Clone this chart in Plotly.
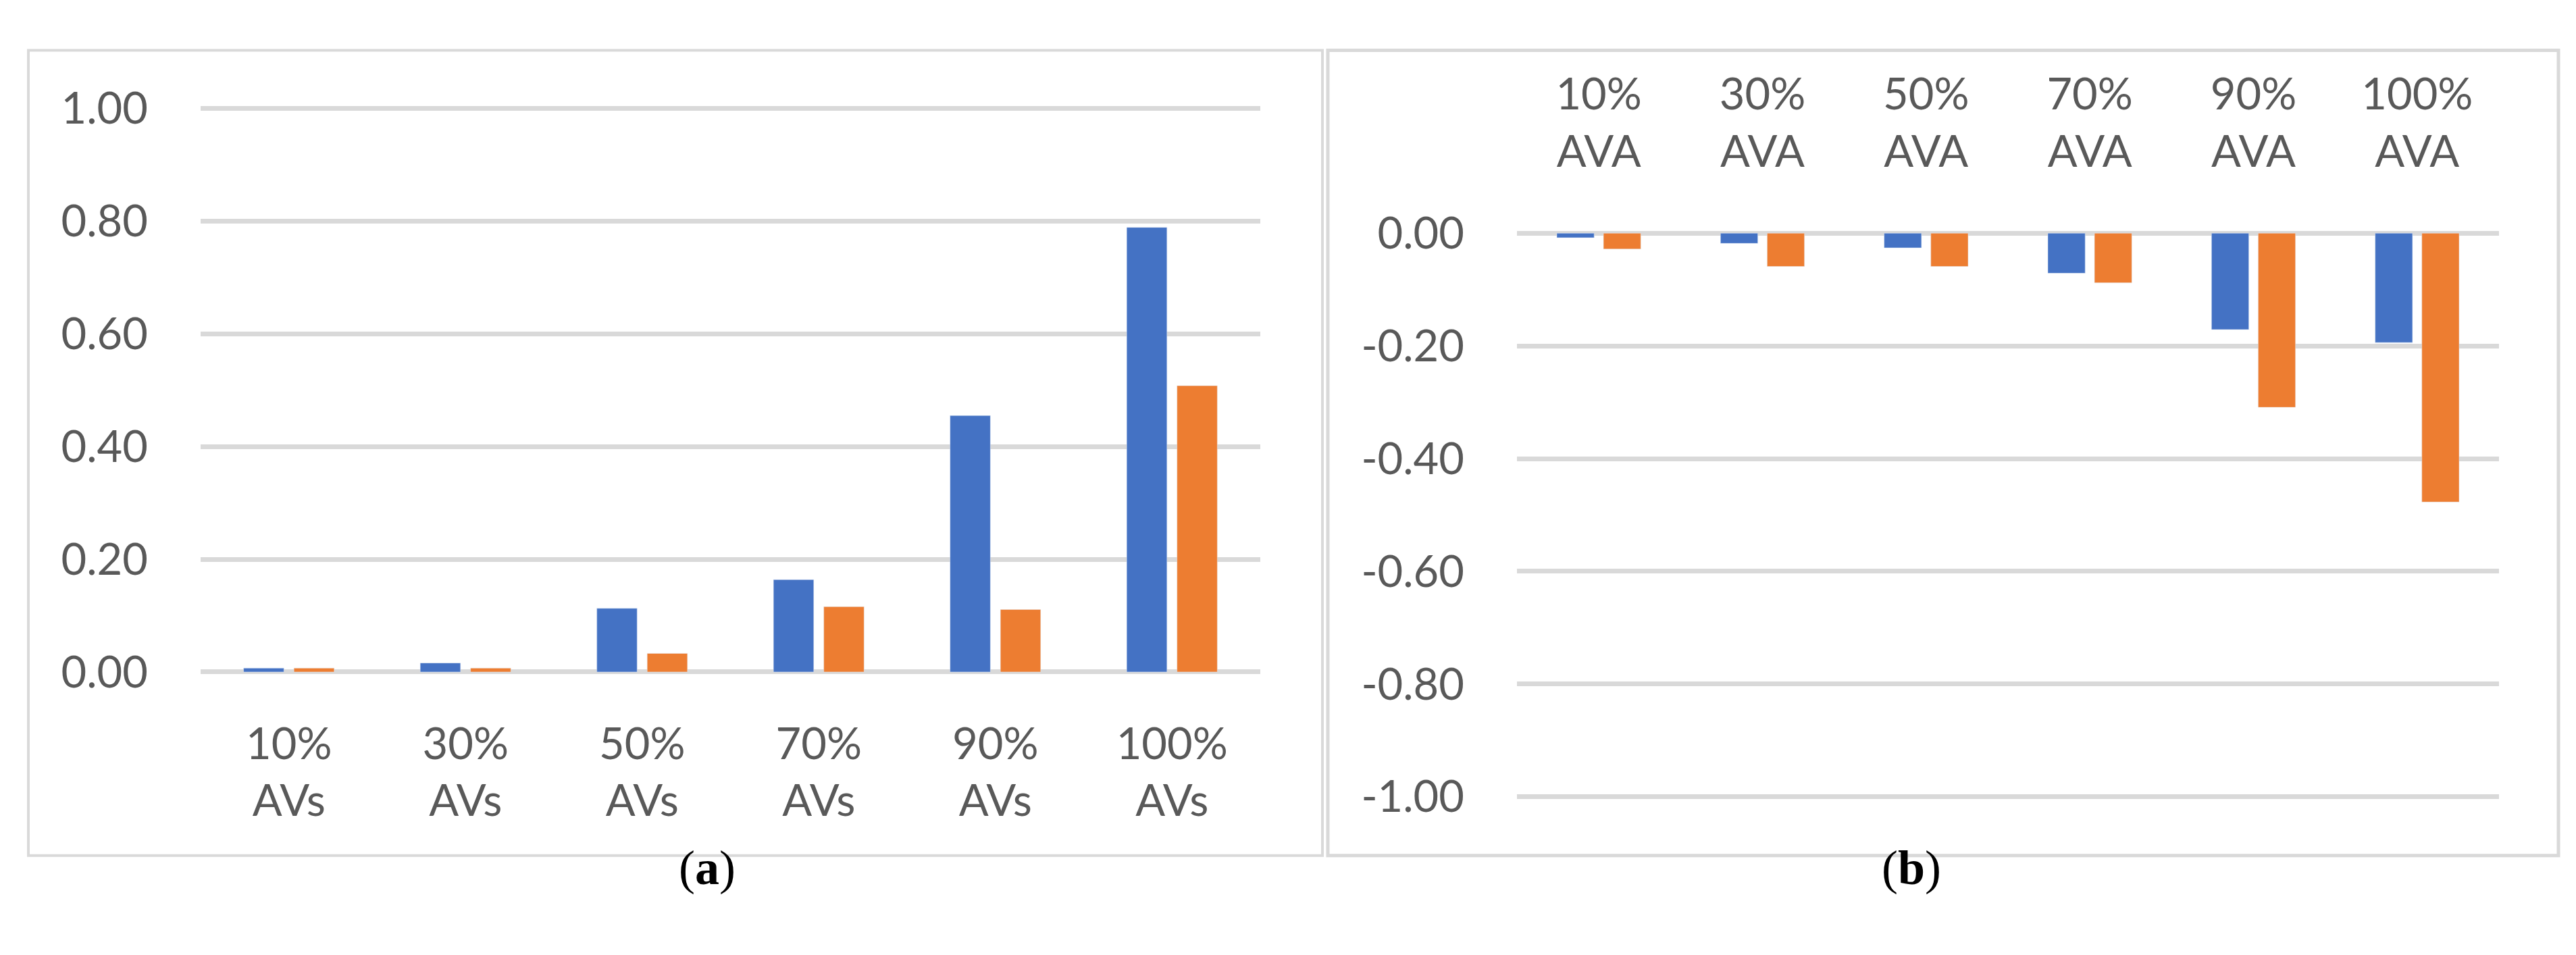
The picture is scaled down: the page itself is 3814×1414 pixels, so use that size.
import plotly.graph_objects as go

W, H = 3814, 1414

cats_a = ["10%<br>AVs", "30%<br>AVs", "50%<br>AVs", "70%<br>AVs", "90%<br>AVs", "100%<br>AVs"]
blue_a = [0.007, 0.016, 0.113, 0.164, 0.455, 0.789]
orange_a = [0.007, 0.007, 0.033, 0.116, 0.111, 0.508]

cats_b = ["10%<br>AVA", "30%<br>AVA", "50%<br>AVA", "70%<br>AVA", "90%<br>AVA", "100%<br>AVA"]
blue_b = [-0.008, -0.018, -0.026, -0.071, -0.171, -0.194]
orange_b = [-0.028, -0.059, -0.059, -0.088, -0.309, -0.477]

ytick_a = [0.0, 0.2, 0.4, 0.6, 0.8, 1.0]
ytext_a = ["0.00", "0.20", "0.40", "0.60", "0.80", "1.00"]
ytick_b = [0.0, -0.2, -0.4, -0.6, -0.8, -1.0]
ytext_b = ["0.00", "-0.20", "-0.40", "-0.60", "-0.80", "-1.00"]

BLUE = "#4472C4"
ORANGE = "#ED7D31"
GRID = "#D9D9D9"
TXT = "#595959"
FONT = "Lato"
FS = 65
EPS = 0.01
UNIT = 872.5  # pixels per 1.0 of value

fig = go.Figure()
fig.add_trace(go.Bar(x=cats_a, y=blue_a, marker_color=BLUE, xaxis="x", yaxis="y"))
fig.add_trace(go.Bar(x=cats_a, y=orange_a, marker_color=ORANGE, xaxis="x", yaxis="y"))
fig.add_trace(go.Bar(x=cats_b, y=blue_b, marker_color=BLUE, xaxis="x2", yaxis="y2"))
fig.add_trace(go.Bar(x=cats_b, y=orange_b, marker_color=ORANGE, xaxis="x2", yaxis="y2"))

def px(x):
    return x / W

def py(y):
    return 1 - y / H

pad = EPS * UNIT
tickfont = dict(family=FONT, size=FS, color=TXT)

fig.update_layout(
    width=W, height=H,
    margin=dict(l=0, r=0, t=0, b=0),
    paper_bgcolor="white", plot_bgcolor="white",
    showlegend=False,
    barmode="group", bargap=0.43, bargroupgap=0.2,
    xaxis=dict(domain=[px(289), px(1858)], anchor="y", showgrid=False, zeroline=False,
               showline=False, ticks="outside", ticklen=50 - pad, tickcolor="rgba(0,0,0,0)",
               tickfont=tickfont, fixedrange=True),
    yaxis=dict(domain=[py(997 + pad), py(125 - pad)], anchor="x", range=[-EPS, 1.0 + EPS],
               tickvals=ytick_a, ticktext=ytext_a, showgrid=True, gridcolor=GRID, gridwidth=7,
               zeroline=False, showline=False, ticks="outside", ticklen=64,
               tickcolor="rgba(0,0,0,0)", tickfont=tickfont),
    xaxis2=dict(domain=[px(2238), px(3692)], anchor="y2", side="top", showgrid=False,
                zeroline=False, showline=False, ticks="outside", ticklen=72 - pad,
                tickcolor="rgba(0,0,0,0)", tickfont=tickfont),
    yaxis2=dict(domain=[py(1190 + pad), py(318 - pad)], anchor="x2", range=[-1.0 - EPS, EPS],
                tickvals=ytick_b, ticktext=ytext_b, showgrid=True, gridcolor=GRID, gridwidth=7,
                zeroline=False, showline=False, ticks="outside", ticklen=64,
                tickcolor="rgba(0,0,0,0)", tickfont=tickfont),
    shapes=[
        dict(type="rect", xref="paper", yref="paper", x0=px(34), x1=px(1950), y0=py(1281), y1=py(35),
             line=dict(color=GRID, width=4), layer="below"),
        dict(type="rect", xref="paper", yref="paper", x0=px(1958), x1=px(3780), y0=py(1281), y1=py(35),
             line=dict(color=GRID, width=5), layer="below"),
    ],
    annotations=[
        dict(text="(<b>a</b>)", x=px(995), y=py(1344), xref="paper", yref="paper",
             showarrow=False, font=dict(family="Liberation Serif", size=72, color="black")),
        dict(text="(<b>b</b>)", x=px(2868), y=py(1344), xref="paper", yref="paper",
             showarrow=False, font=dict(family="Liberation Serif", size=72, color="black")),
    ],
)

fig.write_html("out.html")
